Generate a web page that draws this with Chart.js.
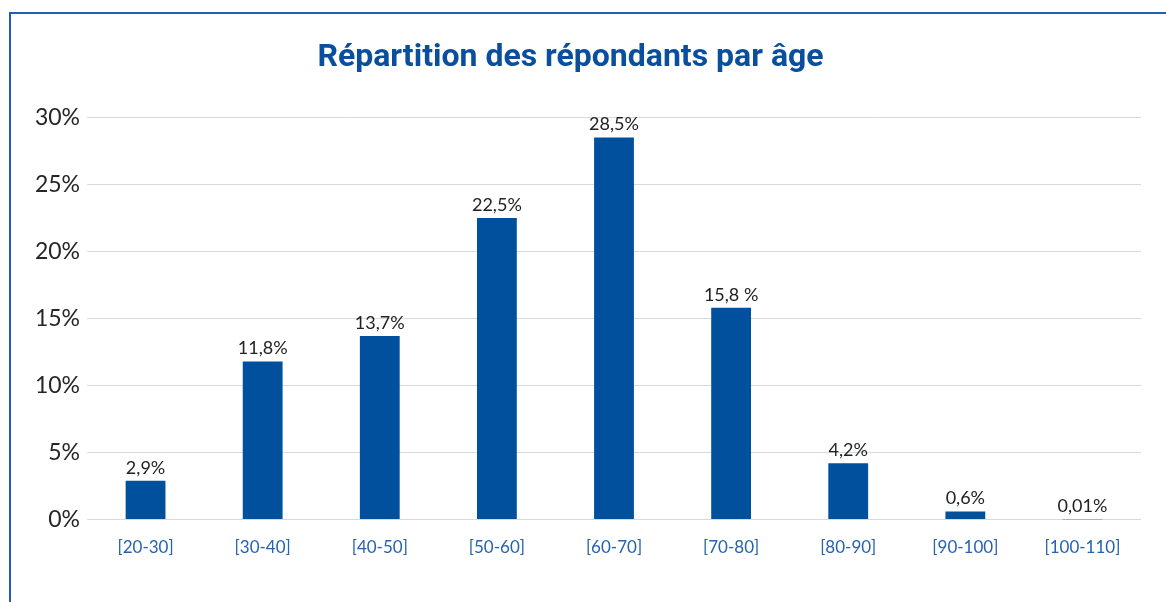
<!DOCTYPE html>
<html lang="fr">
<head>
<meta charset="utf-8">
<script src="https://cdn.jsdelivr.net/npm/chart.js@4"></script>
<style>
  html, body { margin: 0; padding: 0; background: #fff; }
  body { width: 1166px; height: 602px; position: relative; overflow: hidden; }
  .cadre { position: absolute; left: 9px; top: 12px; right: -5px; bottom: -5px;
           border-left: 2px solid #1f5fb4; border-top: 2px solid #1f5fb4; }
  #wrap { position: absolute; left: 0; top: 0; width: 1166px; height: 602px; }
</style>
</head>
<body>
<div class="cadre"></div>
<div id="wrap"><canvas id="grafico-edad" width="1166" height="602"></canvas></div>
<script>
const tranches = ['[20-30]', '[30-40]', '[40-50]', '[50-60]', '[60-70]', '[70-80]', '[80-90]', '[90-100]', '[100-110]'];
const pourcentages = [2.9, 11.8, 13.7, 22.5, 28.5, 15.8, 4.2, 0.6, 0.01];
const etiquettes = ['2,9%', '11,8%', '13,7%', '22,5%', '28,5%', '15,8 %', '4,2%', '0,6%', '0,01%'];
const ticksY = [0, 5, 10, 15, 20, 25, 30];

// étiquettes de valeur au-dessus des barres
const valeursPlugin = {
    id: 'valeurs',
    afterDatasetsDraw(chart) {
        const ctx = chart.ctx;
        const meta = chart.getDatasetMeta(0);
        ctx.save();
        ctx.font = '18px Lato';
        ctx.fillStyle = '#222';
        ctx.textAlign = 'center';
        ctx.textBaseline = 'bottom';
        meta.data.forEach((bar, i) => {
            ctx.fillText(etiquettes[i], bar.x, bar.y - 4);
        });
        ctx.restore();
    }
};

const ctx = document.getElementById('grafico-edad').getContext('2d');
new Chart(ctx, {
    type: 'bar',
    data: {
        labels: tranches,
        datasets: [{
            data: pourcentages,
            backgroundColor: '#00509e',
            barPercentage: 0.68,
            categoryPercentage: 0.5
        }]
    },
    options: {
        responsive: false,
        animation: false,
        devicePixelRatio: 1,
        layout: { padding: { left: 0, right: 25, top: 0, bottom: 34 } },
        plugins: {
            legend: { display: false },
            tooltip: { enabled: false },
            title: {
                display: true,
                text: 'Répartition des répondants par âge',
                color: '#0a4f9e',
                font: { family: 'Roboto', size: 32, weight: 'bold' },
                padding: { top: 39, bottom: 40 }
            }
        },
        scales: {
            x: {
                grid: { display: false },
                border: { display: false },
                ticks: {
                    color: '#2563b0',
                    font: { family: 'Lato', size: 17 },
                    padding: 10,
                    maxRotation: 0
                }
            },
            y: {
                min: 0,
                max: 30,
                afterBuildTicks(scale) {
                    scale.ticks = ticksY.map(v => ({ value: v }));
                },
                afterFit(scale) { scale.width = 87; },
                grid: { color: '#d9d9d9', lineWidth: 1, drawTicks: false },
                border: { display: false },
                ticks: {
                    color: '#262626',
                    font: { family: 'Lato', size: 23 },
                    padding: 7,
                    callback: v => v + '%'
                }
            }
        }
    },
    plugins: [valeursPlugin]
});
</script>
</body>
</html>
